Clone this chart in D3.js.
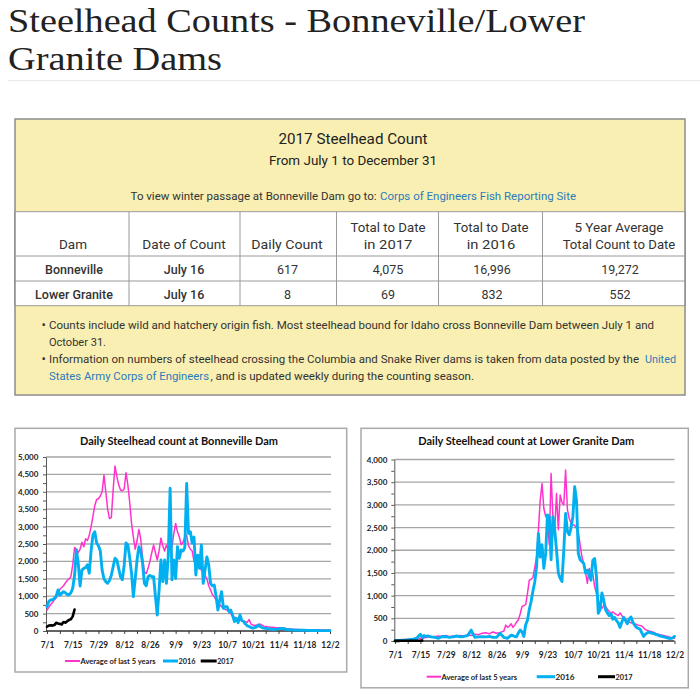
<!DOCTYPE html>
<html><head><meta charset="utf-8">
<script src="https://cdn.jsdelivr.net/npm/d3@7"></script>
<style>body{margin:0;background:#fff} svg{display:block}</style>
</head><body><svg id="c" width="700" height="700"></svg>
<script>
// ---------- DATA ----------
const pageTitleLines = ["Steelhead Counts - Bonneville/Lower","Granite Dams"];
const xTickDays = [0,14,28,42,56,70,84,98,112,126,140,154];
const xTickLabels = ["7/1","7/15","7/29","8/12","8/26","9/9","9/23","10/7","10/21","11/4","11/18","12/2"];
const seriesNames = ["Average of last 5 years","2016","2017"];

const tableHeaders = [["","Dam"],["","Date of Count"],["","Daily Count"],["Total to Date","in 2017"],["Total to Date","in 2016"],["5 Year Average","Total Count to Date"]];
const tableRows = [
  ["Bonneville","July 16","617","4,075","16,996","19,272"],
  ["Lower Granite","July 16","8","69","832","552"]
];

// Bonneville [day since 7/1, count]
const bonAvg5 = [[0,600],[1,680],[2,760],[3,820],[4,900],[5,950],[6,1050],[7,1200],[8,1250],[9,1300],[10,1380],[11,1450],[12,1500],[13,1560],[14,1900],[15,2400],[16,2350],[17,2250],[18,2350],[19,2550],[20,2420],[21,2650],[22,2600],[23,2750],[24,3000],[25,3300],[26,3600],[27,3780],[28,3800],[29,3880],[30,4000],[31,4480],[32,4000],[33,3500],[34,3230],[35,3260],[36,4050],[37,4740],[38,4450],[39,4200],[40,4050],[41,4030],[42,4080],[43,4550],[44,4200],[45,3700],[46,3100],[47,2700],[48,2350],[49,2600],[50,2920],[51,2650],[52,2100],[53,1700],[54,1650],[55,1800],[56,2000],[57,2250],[58,2470],[59,2250],[60,2040],[61,2300],[62,2670],[63,2450],[64,2300],[65,2470],[66,2330],[67,2400],[68,2420],[69,2800],[70,3090],[71,2850],[72,2700],[73,2480],[74,2550],[75,2700],[76,2750],[77,2450],[78,2350],[79,2300],[80,2000],[81,1950],[82,1950],[83,1850],[84,1750],[85,1700],[86,1600],[87,1500],[88,1300],[89,1180],[90,1050],[91,980],[92,900],[93,800],[94,750],[95,700],[96,650],[97,620],[98,600],[99,560],[100,500],[101,420],[102,400],[103,380],[104,350],[105,320],[106,300],[107,290],[108,270],[109,250],[110,330],[111,200],[112,170],[113,160],[114,170],[115,190],[116,200],[117,170],[118,140],[119,130],[120,120],[122,110],[124,100],[126,95],[128,90],[130,70],[132,60],[134,50],[136,45],[138,40],[140,38],[142,35],[144,33],[146,32],[148,30],[150,30],[152,28],[154,28]];
const bon2016 = [[0,700],[1,850],[2,890],[3,900],[4,940],[5,1000],[6,1180],[7,1030],[8,1080],[9,1130],[10,1100],[11,1050],[12,1040],[13,1100],[14,1230],[15,1600],[16,2330],[17,1950],[18,1290],[19,1750],[20,1800],[21,1820],[22,1900],[23,1660],[24,2300],[25,2760],[26,2850],[27,2530],[28,2450],[29,2300],[30,1750],[31,1500],[32,1420],[33,1370],[34,1450],[35,1600],[36,1850],[37,2090],[38,2040],[39,1800],[40,1560],[41,1470],[42,1900],[43,2530],[44,2470],[45,2100],[46,1660],[47,990],[48,1500],[49,2040],[50,2420],[51,2300],[52,1950],[53,1370],[54,1300],[55,1560],[56,1600],[57,1560],[58,1560],[59,1000],[60,460],[61,1180],[62,2040],[63,1420],[64,2040],[65,1370],[66,2180],[67,4100],[68,1470],[69,2040],[70,1510],[71,2420],[72,2090],[73,2330],[74,2300],[75,2400],[76,4240],[77,2800],[78,2850],[79,2530],[80,2700],[81,1610],[82,2180],[83,1800],[84,2470],[85,1370],[86,1750],[87,2130],[88,1900],[89,1370],[90,1300],[91,1320],[92,1000],[93,600],[94,900],[95,1130],[96,650],[97,700],[98,700],[99,560],[100,600],[101,450],[102,270],[103,360],[104,240],[105,460],[106,300],[107,270],[108,200],[109,150],[110,130],[111,100],[112,80],[113,100],[114,120],[115,170],[116,130],[117,100],[118,80],[119,75],[120,70],[122,50],[124,45],[126,60],[128,75],[130,50],[132,35],[134,30],[136,25],[138,20],[140,20],[142,18],[144,15],[146,15],[148,12],[150,12],[152,10],[154,10]];
const bon2017 = [[0,120],[1,160],[2,165],[3,155],[4,170],[5,235],[6,215],[7,205],[8,190],[9,260],[10,240],[11,280],[12,320],[13,340],[14,420],[15,617]];

// Lower Granite
const lgAvg5 = [[0,20],[2,25],[4,30],[6,35],[8,40],[10,45],[12,50],[14,60],[15,40],[16,70],[18,80],[20,90],[22,100],[24,110],[26,100],[28,120],[30,95],[32,110],[34,100],[36,120],[38,110],[40,130],[42,120],[44,150],[46,140],[48,170],[50,180],[52,160],[54,200],[56,170],[58,190],[60,220],[61,350],[62,300],[63,330],[64,380],[65,300],[66,350],[67,420],[68,470],[69,600],[70,760],[71,780],[72,800],[73,1050],[74,1340],[75,1360],[76,1400],[77,1620],[78,1850],[79,2440],[80,3100],[81,3470],[82,2920],[83,2750],[84,2700],[85,2120],[86,3690],[87,2740],[88,2450],[89,3250],[90,2450],[91,3220],[92,3050],[93,3000],[94,3770],[95,2890],[96,2700],[97,2600],[98,2560],[99,2550],[100,2480],[101,2400],[102,2120],[103,1850],[104,1700],[105,1520],[106,1270],[107,1600],[108,1500],[109,1480],[110,1200],[111,1050],[112,900],[113,760],[114,720],[115,780],[116,760],[117,700],[118,650],[119,620],[120,640],[121,610],[122,580],[123,560],[124,620],[125,560],[126,500],[127,470],[128,450],[129,420],[130,400],[132,380],[134,350],[136,330],[138,250],[140,220],[142,200],[144,160],[146,140],[148,120],[150,100],[152,80],[154,60]];
const lg2016 = [[0,5],[2,10],[4,15],[6,20],[8,30],[10,40],[12,60],[13,110],[14,150],[15,80],[16,120],[17,100],[18,110],[20,90],[22,80],[24,60],[26,100],[28,95],[30,80],[32,90],[34,110],[36,90],[38,100],[40,120],[41,180],[42,240],[43,150],[44,80],[46,90],[48,95],[50,90],[52,100],[54,80],[56,80],[57,130],[58,170],[59,120],[60,80],[62,60],[64,130],[66,100],[67,95],[68,180],[69,240],[70,200],[71,100],[72,360],[73,460],[74,700],[75,870],[76,1100],[77,1300],[78,1640],[79,2370],[80,1850],[81,2120],[82,1600],[83,1920],[84,2780],[85,2740],[86,1790],[87,2740],[88,2450],[89,2000],[90,1500],[91,1380],[92,1310],[93,2000],[94,2810],[95,2410],[96,2340],[97,2500],[98,2740],[99,3400],[100,3100],[101,1930],[102,1790],[103,1750],[104,1710],[105,1500],[106,1560],[107,1450],[108,1340],[109,1780],[110,1820],[111,1420],[112,610],[113,690],[114,1060],[115,900],[116,690],[117,620],[118,560],[119,600],[120,480],[121,520],[122,450],[123,400],[124,300],[125,420],[126,520],[127,450],[128,380],[129,480],[130,530],[131,420],[132,350],[133,300],[134,280],[135,260],[136,180],[137,100],[138,150],[139,180],[140,200],[141,180],[142,170],[143,160],[144,140],[145,130],[146,110],[147,100],[148,90],[149,80],[150,70],[151,60],[152,55],[153,70],[154,100]];
const lg2017 = [[0,2],[1,3],[2,3],[3,4],[4,4],[5,5],[6,4],[7,5],[8,6],[9,5],[10,6],[11,5],[12,4],[13,4],[14,5],[15,8]];

// ---------- HELPERS ----------
const svg = d3.select('#c');
svg.append('rect').attr('width',700).attr('height',700).attr('fill','#fff');
function T(p, s, x, y, o={}){
  let fs=o.fs||12;
  const t=p.append('text').attr('x',x).text(s)
    .attr('font-family',o.ff||'Roboto, sans-serif').attr('font-size',fs)
    .attr('font-weight',o.fw||400).attr('fill',o.fill||'#333')
    .attr('text-anchor',o.anchor||'start');
  if(o.w){
    const nat=t.node().getComputedTextLength();
    if(nat>o.w){ fs=fs*o.w/nat; t.attr('font-size',fs); }
    t.attr('textLength',o.w).attr('lengthAdjust','spacingAndGlyphs');
  }
  t.attr('y',y+(o.raw?0:0.36*(o.fs||12)));
  return t;
}

// ---------- PAGE TITLE ----------
const titleW = [577,214], titleY=[31.8,69.6];
pageTitleLines.forEach((s,i)=>{
  T(svg,s,8,titleY[i],{raw:true,fs:34,ff:'Liberation Serif, serif',fill:'#222',w:titleW[i]});
});
svg.append('line').attr('x1',8).attr('x2',700).attr('y1',80.7).attr('y2',80.7).attr('stroke','#e6e6e6').attr('stroke-width',1);

// ---------- TABLE BOX ----------
const tb = svg.append('g');
const YEL = '#f9efb2';
tb.append('rect').attr('x',15).attr('y',119).attr('width',670).attr('height',276).attr('fill',YEL).attr('stroke','#8c8c8c').attr('stroke-width',1.5);
T(tb,'2017 Steelhead Count',353,138.3,{fs:15,anchor:'middle',fill:'#222',w:149});
T(tb,'From July 1 to December 31',353,160,{fs:14,anchor:'middle',fill:'#222',w:168});
T(tb,'To view winter passage at Bonneville Dam go to:',130.6,195.7,{fs:12.5,w:246});
T(tb,'Corps of Engineers Fish Reporting Site',380,195.7,{fs:12.5,fill:'#2b7bbd',w:196});

const tTop=211.7, tH1=256, tH2=281, tBot=305.7;
tb.append('rect').attr('x',15).attr('y',tTop).attr('width',670).attr('height',tBot-tTop).attr('fill','#fff');
const colX = [15,129,240,336.5,438.5,542.5,685];
const colC = [73,184,287,388,491,619];
const rowC = [74,184,287.6,388,492,620];
[tTop,tH1,tH2,tBot].forEach(y=>tb.append('line').attr('x1',15).attr('x2',685).attr('y1',y).attr('y2',y).attr('stroke','#9a9a9a').attr('stroke-width',1));
colX.slice(1,-1).forEach(x=>tb.append('line').attr('x1',x).attr('x2',x).attr('y1',tTop).attr('y2',tBot).attr('stroke','#9a9a9a').attr('stroke-width',1));
tb.append('line').attr('x1',15).attr('x2',15).attr('y1',tTop).attr('y2',tBot).attr('stroke','#8c8c8c').attr('stroke-width',1.5);
tb.append('line').attr('x1',685).attr('x2',685).attr('y1',tTop).attr('y2',tBot).attr('stroke','#8c8c8c').attr('stroke-width',1.5);
const hdrW = [[0,28],[0,83.3],[0,71.5],[75,48.6],[75,48.6],[89,112.7]];
tableHeaders.forEach((h,i)=>{
  if(h[0]) T(tb,h[0],colC[i],227.7,{fs:13,anchor:'middle',fill:'#333',w:hdrW[i][0]});
  T(tb,h[1],colC[i],244.3,{fs:13,anchor:'middle',fill:'#333',w:hdrW[i][1]});
});
const rowY=[269.3,294.3];
tableRows.forEach((r,ri)=>{
  r.forEach((v,ci)=>{
    T(tb,v,rowC[ci],rowY[ri],{fs:12.5,anchor:'middle',fw:ci<2?500:400,fill:'#333'});
  });
});
// notes
const noteY=[324,341.7,358.3,375];
[0,2].forEach(i=>T(tb,'\u2022',43.8,noteY[i],{fs:13,anchor:'middle',fill:'#333'}));
T(tb,'Counts include wild and hatchery origin fish. Most steelhead bound for Idaho cross Bonneville Dam between July 1 and',49,noteY[0],{fs:12.5,w:605});
T(tb,'October 31.',49,noteY[1],{fs:12.5,w:57});
T(tb,'Information on numbers of steelhead crossing the Columbia and Snake River dams is taken from data posted by the',49,noteY[2],{fs:12.5,w:590});
T(tb,'United',645,noteY[2],{fs:12.5,fill:'#2b7bbd',w:31});
T(tb,'States Army Corps of Engineers',49,noteY[3],{fs:12.5,fill:'#2b7bbd',w:160});
T(tb,', and is updated weekly during the counting season.',210.5,noteY[3],{fs:12.5,w:263.5});

// ---------- CHARTS ----------
const COLORS = ['#ff33cc','#00b0f0','#000000'];
const WIDTHS = [1.5,2.9,2.6];
function chart(o){
  const g = svg.append('g');
  g.append('rect').attr('x',o.frame[0]).attr('y',o.frame[1]).attr('width',o.frame[2]-o.frame[0]).attr('height',o.frame[3]-o.frame[1])
    .attr('fill','#fff').attr('stroke','#a9a9a9').attr('stroke-width',1.5);
  const x = d3.scaleLinear().domain([0,154]).range(o.xr);
  const y = d3.scaleLinear().domain([0,o.ymax]).range([o.y0,o.y1]);
  const majors = d3.range(0,o.ymax+1,500);
  const minors = d3.range(0,o.ymax+1,250);
  g.append('g').selectAll('line').data(majors.filter(v=>v>0)).join('line')
    .attr('x1',o.axisX).attr('x2',o.gridR).attr('y1',d=>y(d)).attr('y2',d=>y(d))
    .attr('stroke','#a6a6a6').attr('stroke-width',1.3);
  const yMinor = g.append('g').attr('transform',`translate(${o.axisX},0)`)
    .call(d3.axisLeft(y).tickValues(minors).tickSize(3).tickSizeOuter(0).tickFormat(''));
  yMinor.select('.domain').attr('stroke','#595959');
  yMinor.selectAll('.tick line').attr('stroke','#595959');
  const yLab = g.append('g').attr('transform',`translate(${o.axisX},0)`)
    .call(d3.axisLeft(y).tickValues(majors).tickSize(0).tickPadding(o.axisX-o.ylabR).tickFormat(d3.format(',')));
  yLab.select('.domain').remove();
  yLab.selectAll('text').attr('font-family','Lato, sans-serif').attr('font-weight',700).attr('font-size',8).attr('fill','#222');
  const xMinor = g.append('g').attr('transform',`translate(0,${o.y0})`)
    .call(d3.axisBottom(x).tickValues(d3.range(0,155,7)).tickSize(3).tickSizeOuter(0).tickFormat(''));
  xMinor.select('.domain').remove();
  xMinor.selectAll('.tick line').attr('stroke','#404040');
  g.append('line').attr('x1',o.axisX).attr('x2',o.gridR).attr('y1',o.y0).attr('y2',o.y0).attr('stroke','#303030').attr('stroke-width',1.3);
  const xLab = g.append('g').attr('transform',`translate(0,${o.y0})`)
    .call(d3.axisBottom(x).tickValues(xTickDays).tickSize(0).tickPadding(o.xlabOff-3.4).tickFormat((d,i)=>xTickLabels[i]));
  xLab.select('.domain').remove();
  xLab.selectAll('text').attr('font-family','Lato, sans-serif').attr('font-weight',700).attr('font-size',9.5).attr('fill','#222')
    .each(function(){const w=this.getComputedTextLength(); d3.select(this).attr('textLength',w*0.88).attr('lengthAdjust','spacingAndGlyphs');});
  const line = d3.line().x(d=>x(d[0])).y(d=>y(d[1]));
  o.series.forEach((s,i)=>{
    g.append('path').datum(s).attr('d',line).attr('fill','none').attr('stroke',COLORS[i])
      .attr('stroke-width',WIDTHS[i]).attr('stroke-linejoin','round').attr('stroke-linecap','round');
  });
  T(g,o.title,o.tx,441.7,{fs:10.5,fw:700,ff:'Lato, sans-serif',anchor:'middle',fill:'#111',w:o.tw});
  o.legend.forEach((L,i)=>{
    g.append('line').attr('x1',L[0]).attr('x2',L[1]).attr('y1',o.ly).attr('y2',o.ly).attr('stroke',COLORS[i]).attr('stroke-width',i===0?2:3);
    T(g,seriesNames[i],L[1]+0.5,o.ly,{fs:8,fw:700,ff:'Lato, sans-serif',fill:'#222',w:L[2]});
  });
}
chart({frame:[15,428.3,346.7,672], xr:[47,330], axisX:46, gridR:331, y0:631, y1:457, ymax:5000, ylabR:38.3, xlabOff:14,
  title:'Daily Steelhead count at Bonneville Dam', tx:179, tw:198, ly:661,
  legend:[[65,80,75],[163,178,17],[200.7,216.7,16.5]], series:[bonAvg5,bon2016,bon2017]});
chart({frame:[361,428.3,688.3,687.8], xr:[395,674.5], axisX:394.3, gridR:674.5, y0:641, y1:459.5, ymax:4000, ylabR:387.3, xlabOff:14,
  title:'Daily Steelhead count at Lower Granite Dam', tx:526.3, tw:216, ly:676.7,
  legend:[[426.7,441,75.6],[536.7,555,19],[598,615,17]], series:[lgAvg5,lg2016,lg2017]});
</script></body></html>
